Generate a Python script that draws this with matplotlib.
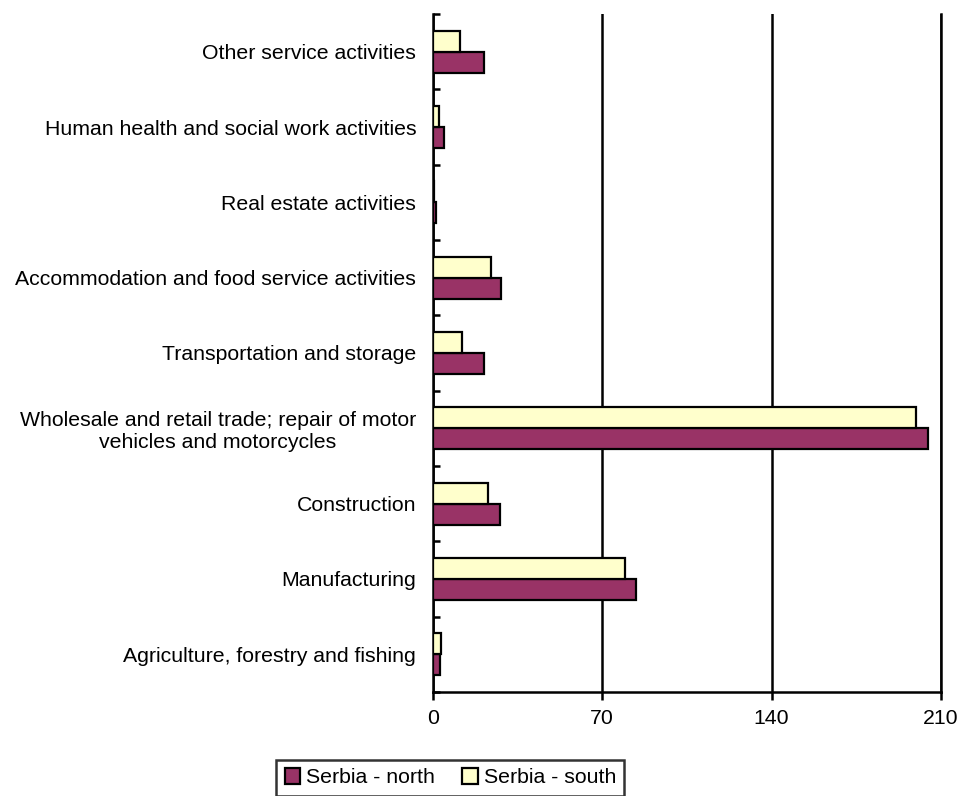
import matplotlib.pyplot as plt
import numpy as np

plt.rcParams['font.family'] = ['Liberation Sans', 'DejaVu Sans']

categories = [
    "Agriculture, forestry and fishing",
    "Manufacturing",
    "Construction",
    "Wholesale and retail trade; repair of motor\nvehicles and motorcycles",
    "Transportation and storage",
    "Accommodation and food service activities",
    "Real estate activities",
    "Human health and social work activities",
    "Other service activities",
]
north = [2.9, 84.0, 27.7, 204.8, 21.0, 28.0, 1.2, 4.5, 21.0]
south = [3.2, 79.6, 22.9, 199.7, 12.0, 24.0, 0.5, 2.5, 11.2]
xticks = [0, 70, 140, 210]

fig = plt.figure(figsize=(9.62, 7.96), dpi=100)
ax = fig.add_axes([0.450, 0.1307, 0.528, 0.8517])

y = np.arange(len(categories))
h = 0.28
ax.barh(y - h / 2, north, height=h, color='#993366', edgecolor='black',
        linewidth=1.6, label='Serbia - north', zorder=3)
ax.barh(y + h / 2, south, height=h, color='#FFFFCC', edgecolor='black',
        linewidth=1.6, label='Serbia - south', zorder=3)

ax.set_xlim(0, 210)
ax.set_ylim(-0.5, len(categories) - 0.5)
ax.set_xticks(xticks)
ax.set_xticklabels([str(v) for v in xticks], fontsize=15.3)
ax.grid(axis='x', color='black', linewidth=1.8, zorder=0)

ax.set_yticks(y)
ax.set_yticklabels(categories, fontsize=15.3, multialignment='center')
ax.set_yticks(np.arange(len(categories) + 1) - 0.5, minor=True)
ax.tick_params(axis='y', which='major', length=0, pad=12)
ax.tick_params(axis='y', which='minor', direction='in', length=5, width=1.8)
ax.tick_params(axis='x', direction='out', length=6, width=1.8, pad=6)

ax.spines['top'].set_visible(False)
for s in ['left', 'bottom', 'right']:
    ax.spines[s].set_linewidth(1.8)

leg = fig.legend(loc='upper center', bbox_to_anchor=(0.468, 0.0455), ncol=2,
                 fontsize=15.3, frameon=True, fancybox=False, edgecolor='black',
                 handlelength=0.75, handleheight=0.75, handletextpad=0.25,
                 columnspacing=1.3, borderpad=0.4, borderaxespad=0)
leg.get_frame().set_linewidth(1.8)

fig.savefig('out.png', dpi=100)
